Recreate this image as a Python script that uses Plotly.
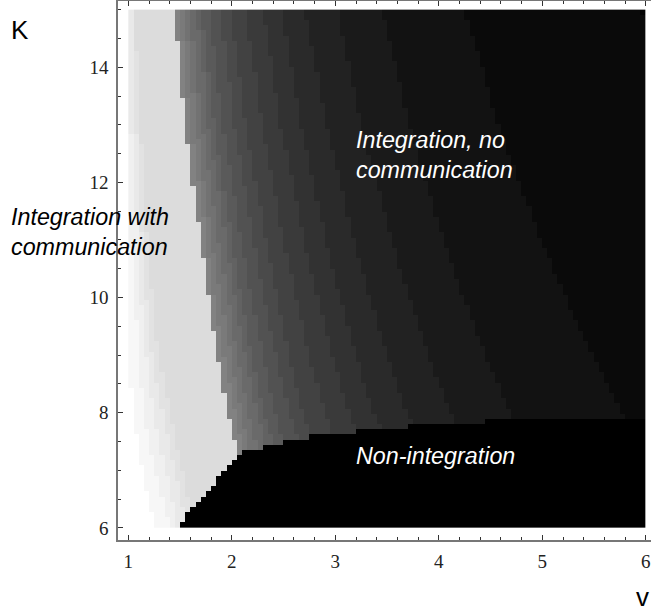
import numpy as np
import plotly.graph_objects as go

# ---------------- data ----------------
# density-plot grid (cell centres): v from 1 to 6, K from 6 to 15, 100 x 100 cells
V_CELLS = np.round(np.linspace(1.025, 5.975, 100), 4)
K_CELLS = np.round(np.linspace(6.045, 14.955, 100), 4)

# K levels at which the band boundaries were read
K_LEVELS = [6, 7, 8, 9, 10, 11, 12, 13, 14, 15]

# boundaries between light bands (v position at each K level)
L1 = [1.26, 1.13, 1.045, 1.00, 0.95, 0.90, 0.85, 0.80, 0.75, 0.70]
L2 = [1.40, 1.26, 1.145, 1.10, 1.06, 1.02, 0.99, 0.96, 0.93, 0.90]
L3 = [1.48, 1.36, 1.24, 1.17, 1.12, 1.09, 1.06, 1.02, 0.99, 0.97]
L4 = [1.56, 1.45, 1.33, 1.23, 1.17, 1.13, 1.10, 1.07, 1.05, 1.04]
L5 = [1.63, 1.52, 1.40, 1.29, 1.23, 1.18, 1.15, 1.11, 1.08, 1.06]
# communication / no-communication boundary
B1 = [2.24, 2.09, 1.96, 1.86, 1.78, 1.70, 1.62, 1.55, 1.50, 1.44]
# boundaries between dark bands
E1 = [2.31, 2.16, 2.03, 1.92, 1.83, 1.75, 1.68, 1.60, 1.55, 1.49]
E2 = [2.39, 2.23, 2.09, 1.99, 1.89, 1.81, 1.73, 1.66, 1.60, 1.54]
E3 = [2.46, 2.31, 2.16, 2.05, 1.96, 1.87, 1.79, 1.71, 1.65, 1.59]
E4 = [2.56, 2.39, 2.24, 2.13, 2.03, 1.94, 1.86, 1.77, 1.72, 1.65]
E5 = [2.64, 2.47, 2.31, 2.19, 2.09, 2.00, 1.91, 1.83, 1.77, 1.70]
E6 = [2.76, 2.58, 2.42, 2.30, 2.19, 2.09, 2.00, 1.91, 1.85, 1.78]
E7 = [2.91, 2.73, 2.56, 2.43, 2.31, 2.21, 2.12, 2.02, 1.96, 1.88]
E8 = [3.07, 2.87, 2.69, 2.55, 2.44, 2.33, 2.23, 2.13, 2.06, 1.98]
E9 = [3.30, 3.09, 2.90, 2.75, 2.62, 2.50, 2.40, 2.29, 2.22, 2.13]
E10 = [3.57, 3.34, 3.13, 2.97, 2.83, 2.70, 2.59, 2.47, 2.39, 2.30]
E11 = [3.84, 3.60, 3.37, 3.20, 3.05, 2.91, 2.79, 2.67, 2.58, 2.48]
E12 = [4.20, 3.93, 3.69, 3.50, 3.33, 3.18, 3.05, 2.91, 2.82, 2.71]
E13 = [4.68, 4.38, 4.11, 3.90, 3.71, 3.55, 3.40, 3.25, 3.14, 3.02]
E14 = [5.35, 5.00, 4.69, 4.45, 4.24, 4.05, 3.88, 3.71, 3.59, 3.45]
E15 = [6.59, 6.16, 5.78, 5.48, 5.23, 4.99, 4.78, 4.57, 4.42, 4.25]
E16 = [9.20, 8.60, 8.10, 7.70, 7.30, 7.00, 6.70, 6.40, 6.19, 5.95]

# grey level of each band, left to right (0 = black, 255 = white)
BAND_GREY = [255, 247, 240, 233, 226, 220,
             130, 122, 114, 106, 98, 90, 82, 74, 66, 58, 50, 42, 34, 26, 18,
             10, 3]

# top edge of the black "Non-integration" region
BLACK_V = [1.45, 2.09, 2.25, 2.40, 2.60, 2.85, 3.20, 3.60, 4.00, 4.50, 5.00, 6.00]
BLACK_K = [5.98, 7.30, 7.38, 7.45, 7.52, 7.60, 7.67, 7.74, 7.80, 7.85, 7.88, 7.88]

X_TICKS = [1, 2, 3, 4, 5, 6]
Y_TICKS = [6, 8, 10, 12, 14]

# ---------------- build the cell grid ----------------
contours = [L1, L2, L3, L4, L5, B1, E1, E2, E3, E4, E5, E6, E7, E8, E9,
            E10, E11, E12, E13, E14, E15, E16]
Z = np.zeros((len(K_CELLS), len(V_CELLS)))
for j, k in enumerate(K_CELLS):
    bx = np.array([np.interp(k, K_LEVELS, c) for c in contours])
    for i, v in enumerate(V_CELLS):
        if k < np.interp(v, BLACK_V, BLACK_K):
            Z[j, i] = 0
        else:
            idx = int(np.sum(bx <= v))
            Z[j, i] = BAND_GREY[idx]

fig = go.Figure()
fig.add_trace(go.Heatmap(
    x=V_CELLS, y=K_CELLS, z=Z,
    colorscale=[[0, "rgb(0,0,0)"], [1, "rgb(255,255,255)"]],
    zmin=0, zmax=255, showscale=False, zsmooth=False, hoverinfo="skip"))

tickfont = dict(family="Liberation Serif, Times New Roman, serif", size=19, color="#222")
fig.update_layout(
    width=652, height=615,
    margin=dict(l=118, r=1, t=1, b=75, autoexpand=False),
    paper_bgcolor="white", plot_bgcolor="white",
    showlegend=False,
    xaxis=dict(range=[0.9, 6.05], tickvals=X_TICKS, ticks="inside", ticklen=5,
               tickcolor="#333", tickwidth=1, showline=True, linecolor="#777",
               linewidth=1.5, mirror="ticks", showgrid=False, zeroline=False,
               automargin=False, tickfont=tickfont, ticklabelstandoff=3,
               minor=dict(dtick=0.2, tick0=0, ticks="inside", ticklen=3,
                          tickcolor="#333", showgrid=False)),
    yaxis=dict(range=[5.79, 15.15], tickvals=Y_TICKS, ticks="inside", ticklen=5,
               tickcolor="#333", tickwidth=1, showline=True, linecolor="#777",
               linewidth=1.5, mirror=False, showgrid=False, zeroline=False,
               automargin=False, tickfont=tickfont, ticklabelstandoff=4,
               minor=dict(dtick=0.5, tick0=0, ticks="inside", ticklen=3,
                          tickcolor="#333", showgrid=False)),
)

lab = dict(family="Liberation Sans, Arial, sans-serif", size=23.3)
fig.add_annotation(x=3.18, y=12.48, xref="x", yref="y", xanchor="left", yanchor="middle",
                   text="<i>Integration, no<br>communication</i>", showarrow=False,
                   align="left", font=dict(lab, color="white"))
fig.add_annotation(x=3.18, y=7.25, xref="x", yref="y", xanchor="left", yanchor="middle",
                   text="<i>Non-integration</i>", showarrow=False,
                   align="left", font=dict(lab, color="white"))
fig.add_annotation(x=-0.2043, y=0.5714, xref="paper", yref="paper", xanchor="left",
                   yanchor="middle", text="<i>Integration with<br>communication</i>",
                   showarrow=False, align="left", font=dict(lab, color="black"))
fig.add_annotation(x=-0.184, y=0.947, xref="paper", yref="paper", xanchor="center",
                   yanchor="middle", text="K", showarrow=False,
                   font=dict(family="Liberation Sans, Arial, sans-serif", size=26, color="black"))
fig.add_annotation(x=1.0, y=-0.1373, xref="paper", yref="paper", xanchor="right",
                   yanchor="bottom", text="v", showarrow=False,
                   font=dict(family="Liberation Sans, Arial, sans-serif", size=26, color="black"))

fig.write_html("out.html", config={"displayModeBar": False},
               post_script="document.body.style.margin='0px';document.body.style.overflow='hidden';")
